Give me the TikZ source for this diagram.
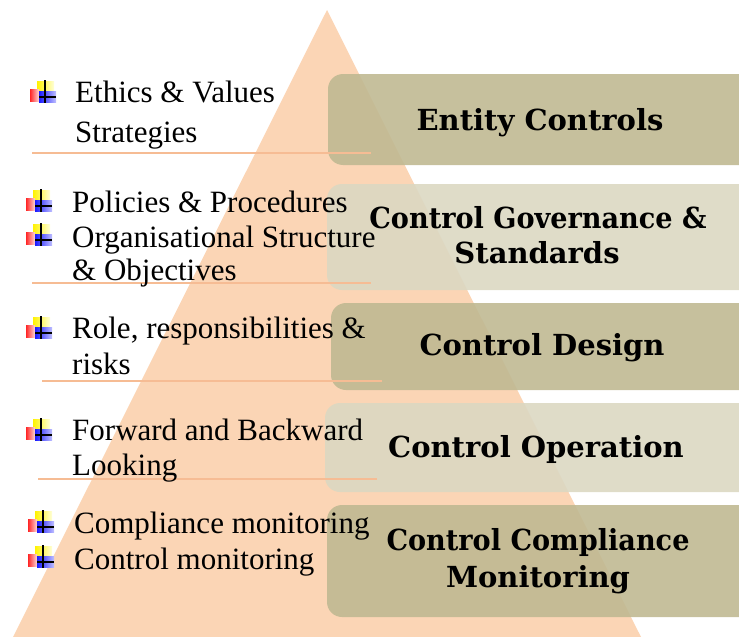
\documentclass[tikz,border=0pt]{standalone}
\usepackage{fontspec}
\setmainfont{Liberation Serif}
\newfontfamily\headfont{DejaVu Serif}
\usetikzlibrary{shadings}

\definecolor{pyramid}{RGB}{251,213,181}
\definecolor{rule}{RGB}{246,188,148}
\definecolor{boxdark}{RGB}{192,185,146}
\definecolor{boxlight}{RGB}{219,216,194}

\tikzset{
  layer/.style={rounded corners=15pt, fill opacity=0.9},
  darklayer/.style={layer, fill=boxdark},
  lightlayer/.style={layer, fill=boxlight},
  item/.style={anchor=base west, inner sep=0pt, font=\fontsize{31}{34}\selectfont},
  head/.style={anchor=base, inner sep=0pt, font=\headfont\bfseries\fontsize{29}{32}\selectfont},
  divider/.style={draw=rule, line width=1.6pt},
  bul/.pic={
    \shade[left color=yellow!90!orange, right color=yellow!15] (7,1) rectangle (24,12);
    \shade[left color=red!85, right color=red!15] (0,9) rectangle (9,21);
    \shade[left color=blue!90, right color=blue!25] (9,11) rectangle (26,22);
    \draw[line width=1.6pt] (15,0) -- (15,23);
    \draw[line width=1.6pt] (9,17) -- (26,17);
  }
}
% narrower setting for the two longest title lines
\newcommand{\narrowline}[1]{\scalebox{0.935}[1]{#1}}

\begin{document}
\begin{tikzpicture}[x=1pt, y=-1pt]
\useasboundingbox (0,0) rectangle (739,637);
\clip (0,0) rectangle (739,637);

% pyramid
\fill[pyramid] (327,10) -- (641,637) -- (13,637) -- cycle;

% layer boxes
\path[darklayer]  (328,74)  rectangle (770,165);
\path[lightlayer] (327,184) rectangle (770,290);
\path[darklayer]  (331,303) rectangle (770,390);
\path[lightlayer] (325,403) rectangle (770,492);
\path[darklayer]  (327,505) rectangle (770,617);

% layer titles
\node[head] (t1)  at (540,130) {Entity Controls};
\node[head] (t2a) at (538,228) {\narrowline{Control Governance \&}};
\node[head] (t2b) at (537,263) {Standards};
\node[head] (t3)  at (542,355) {Control Design};
\node[head] (t4)  at (536,457) {Control Operation};
\node[head] (t5a) at (538,550) {\narrowline{Control Compliance}};
\node[head] (t5b) at (538,587) {Monitoring};

% dividers under each group
\draw[divider] (32,153) -- (371,153);
\draw[divider] (32,283) -- (371,283);
\draw[divider] (42,381) -- (382,381);
\draw[divider] (38,479) -- (377,479);

% bullets
\pic at (30,80)  {bul};
\pic at (26,189) {bul};
\pic at (26,223) {bul};
\pic at (26,316) {bul};
\pic at (26,418) {bul};
\pic at (28,510) {bul};
\pic at (28,545) {bul};

% item texts
\node[item] (e1) at (75,102) {Ethics \& Values};
\node[item] (e2) at (75,142) {Strategies};
\node[item] (g1) at (72,212) {Policies \& Procedures};
\node[item] (g2) at (72,247) {Organisational Structure};
\node[item] (g3) at (72,280) {\& Objectives};
\node[item] (d1) at (72,338) {Role, responsibilities \&};
\node[item] (d2) at (72,374) {risks};
\node[item] (o1) at (72,440) {Forward and Backward};
\node[item] (o2) at (72,475) {Looking};
\node[item] (m1) at (74,533) {Compliance monitoring};
\node[item] (m2) at (74,569) {Control monitoring};
\end{tikzpicture}
\end{document}
